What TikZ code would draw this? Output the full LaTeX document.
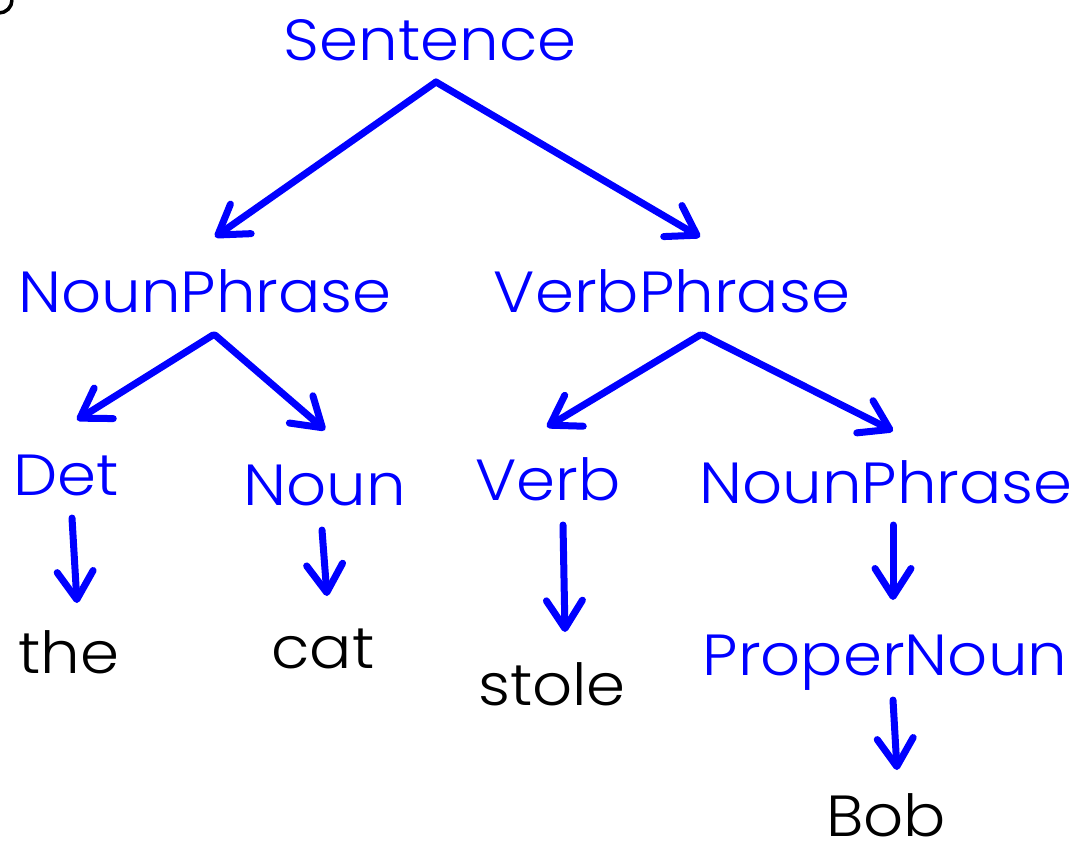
\documentclass[tikz,border=0pt]{standalone}
\usepackage{fontspec}
\setmainfont{Poppins}[UprightFont={* Light},FakeStretch=1.08]
\usetikzlibrary{arrows.meta,calc}
\begin{document}
\begin{tikzpicture}[x=1pt,y=-1pt,
  lbl/.style={anchor=base,inner sep=0pt,font=\fontsize{58}{60}\selectfont},
  cat/.style={lbl,text=blue},
  word/.style={lbl,text=black},
  arr/.style={draw=blue,line width=7pt,line cap=round,
    -{Straight Barb[length=28pt,width=36pt,line cap=round,line join=round]}}]
\useasboundingbox (0,0) rectangle (1084,843);
\draw[line width=3.5pt] (12,0) arc[start angle=0,end angle=90,radius=13];
\node[cat] (s) at (430,60) {Sentence};
\node[cat] (np) at (205,312) {NounPhrase};
\node[cat] (vp) at (672,312) {VerbPhrase};
\node[cat] (det) at (66,495) {Det};
\node[cat] (n) at (325,505) {Noun};
\node[cat] (v) at (548,500) {Verb};
\node[cat] (np2) at (886,503) {NounPhrase};
\node[word] (the) at (69,673) {the};
\node[word] (catw) at (323,668) {cat};
\node[word] (stole) at (552,705) {stole};
\node[cat] (pn) at (885,675) {ProperNoun};
\node[word] (bob) at (886,836) {Bob};
\draw[arr] ($(s.base)+(6,22)$) -- ($(np.base)+(10,-75)$);
\draw[arr] ($(s.base)+(6,22)$) -- ($(vp.base)+(28,-75)$);
\draw[arr] ($(np.base)+(8,23)$) -- ($(det.base)+(11,-75)$);
\draw[arr] ($(np.base)+(10,23)$) -- ($(n.base)+(0,-75)$);
\draw[arr] ($(vp.base)+(28,23)$) -- ($(v.base)+(-1,-73)$);
\draw[arr] ($(vp.base)+(31,23)$) -- ($(np2.base)+(7,-72)$);
\draw[arr] ($(det.base)+(6,23)$) -- ($(the.base)+(8,-70)$);
\draw[arr] ($(n.base)+(-3,25)$) -- ($(catw.base)+(4,-72)$);
\draw[arr] ($(v.base)+(15,25)$) -- ($(stole.base)+(13,-73)$);
\draw[arr] ($(np2.base)+(7,22)$) -- ($(pn.base)+(8,-75)$);
\draw[arr] ($(pn.base)+(8,25)$) -- ($(bob.base)+(11,-66)$);
\end{tikzpicture}
\end{document}
